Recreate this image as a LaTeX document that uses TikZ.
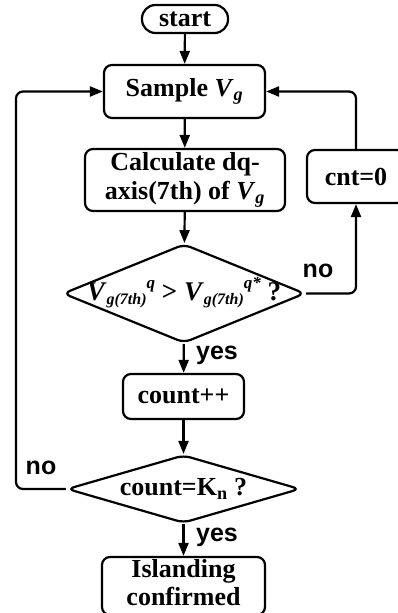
\documentclass[tikz,border=0pt]{standalone}
\usepackage{fontspec}
\setmainfont{Liberation Serif}
\newfontfamily\arialb{Liberation Sans}
\usetikzlibrary{shapes.geometric,arrows.meta}
\newcommand{\vb}[1]{\textit{#1}}
\newcommand{\sbx}[1]{\raisebox{-0.3ex}{\fontsize{16}{16}\selectfont #1}}
\newcommand{\spx}[1]{\raisebox{1.0ex}{\fontsize{17}{17}\selectfont #1}}
\tikzset{
  base/.style={draw, line width=2.2pt, font=\fontsize{26}{29}\selectfont\bfseries, align=center, inner sep=0pt},
  box/.style={base, rectangle, rounded corners=8pt},
  term/.style={base, rectangle, rounded corners=13.5pt, minimum width=86pt, minimum height=28pt},
  dia/.style={draw, line width=2.2pt, diamond, rounded corners=7pt, inner sep=0pt},
  lbl/.style={font=\fontsize{25}{28}\selectfont\arialb\bfseries, inner sep=0pt},
  arr/.style={line width=2.2pt, -{Triangle[length=13pt,width=10pt]}},
  conn/.style={line width=2.2pt, rounded corners=7pt}
}
\begin{document}
\begin{tikzpicture}[x=1pt,y=-1pt]
\useasboundingbox (0,0) rectangle (397,613);
\node[term] (start) at (185,19) {start};
\node[box, minimum width=161pt, minimum height=53pt] (sample) at (184.5,91.5) {Sample \vb{V}\textsubscript{\vb{g}}};
\node[box, minimum width=200pt, minimum height=62pt] (calc) at (185,180) {Calculate dq-\\axis(7th) of \vb{V}\textsubscript{\vb{g}}};
\node[dia, minimum width=242pt, minimum height=99pt] (d1) at (184,293.5) {};
\node[base, draw=none, font=\fontsize{27}{29}\selectfont\bfseries] (d1t) at ([yshift=1pt]d1.center) {\vb{V}\sbx{\vb{g(7th)}}\spx{\vb{q}} > \vb{V}\sbx{\vb{g(7th)}}\spx{\vb{q*}} ?};
\node[box, minimum width=98pt, minimum height=53pt] (cnt) at (356,176.5) {cnt=0};
\node[box, minimum width=121pt, minimum height=45pt] (count) at (183.5,396.5) {count++};
\node[dia, minimum width=233pt, minimum height=68pt] (d2) at (183.5,489) {};
\node[base, draw=none] (d2t) at (d2.center) {count=K\textsubscript{n} ?};
\node[box, minimum width=163pt, minimum height=58pt] (isl) at (183.5,586) {};
\node[base, draw=none, font=\fontsize{26}{28}\selectfont\bfseries] (islt) at ([yshift=3pt]isl.center) {Islanding\\confirmed};
\coordinate (lc) at (16,489);
\draw[arr] (start) -- (sample);
\draw[arr] (sample) -- (calc);
\draw[arr] (calc) -- (d1);
\draw[arr] (d1) -- (count);
\draw[arr] (count) -- (d2);
\draw[arr] (d2) -- (isl);
\draw[conn, arr] (d1.east) -| (cnt.south);
\draw[conn, arr] (cnt.north) |- (sample.east);
\draw[conn, arr] (d2.west) -- (lc) |- (sample.west);
\node[lbl] (y1) at (217,355) {yes};
\node[lbl] (y2) at (217,537) {yes};
\node[lbl] (n1) at (318,271) {no};
\node[lbl] (n2) at (41,468) {no};
\end{tikzpicture}
\end{document}
